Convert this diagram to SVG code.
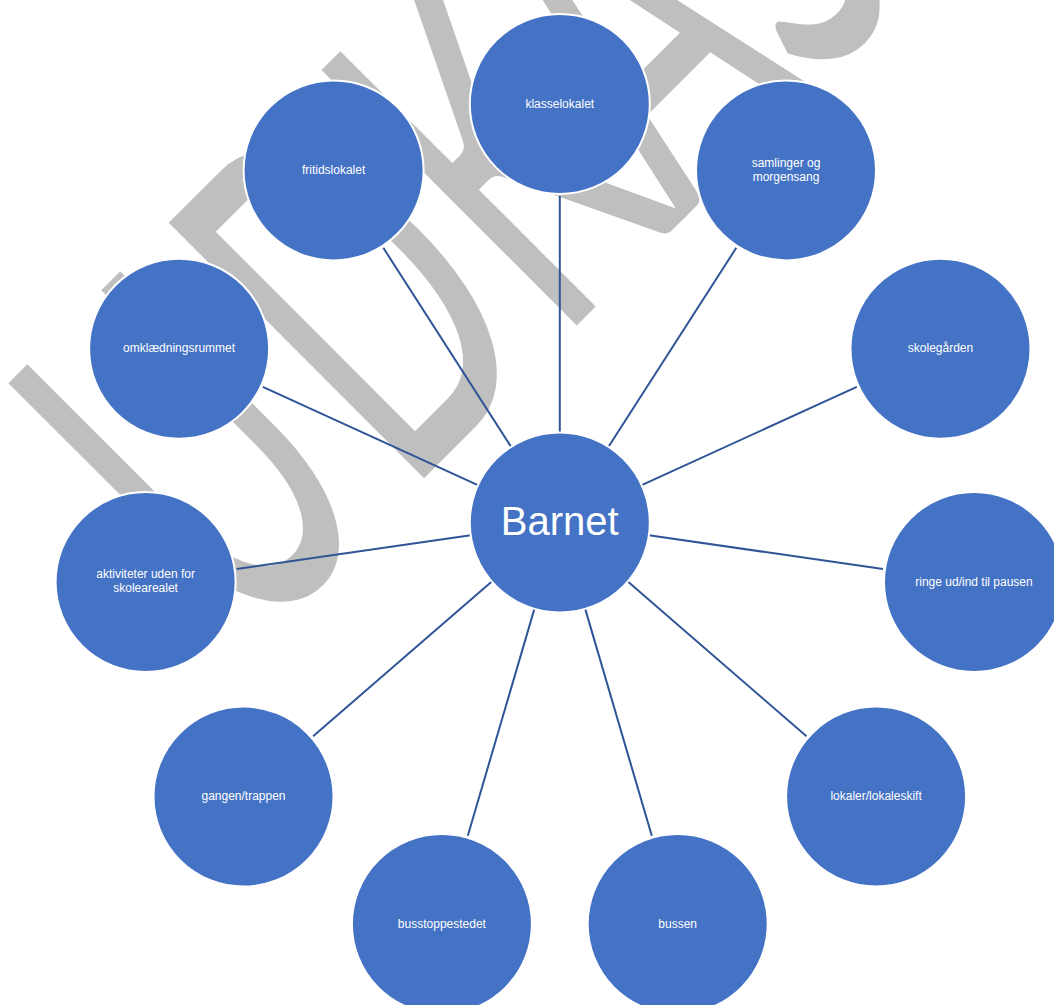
<svg xmlns="http://www.w3.org/2000/svg" width="1054" height="1005" viewBox="0 0 1054 1005">
<style>
.node{fill:#4472C4;stroke:#FFFFFF;stroke-width:2}
.lbl{font-family:"Liberation Sans",Arial,sans-serif;font-size:12px;fill:#FFFFFF;text-anchor:middle}
.big{font-family:"Liberation Sans",Arial,sans-serif;font-size:40px;fill:#FFFFFF;text-anchor:middle}
.wm{font-family:Lato,"Liberation Sans",sans-serif;font-size:504px;fill:#BFBFBF;text-anchor:middle}
#connectors line{stroke:#2F5597;stroke-width:2}
</style>
<rect width="1054" height="1005" fill="#FFFFFF"/>
<g id="watermark" transform="rotate(-45) scale(0.55,1)">
<text class="wm" x="-338 76 444 765 1064 1290" y="638">UDKAST</text>
</g>
<g id="connectors">
<line x1="559.8" y1="432.5" x2="559.8" y2="196.0"/>
<line x1="608.5" y1="446.8" x2="736.3" y2="247.8"/>
<line x1="641.7" y1="485.1" x2="856.8" y2="386.9"/>
<line x1="648.9" y1="535.3" x2="883.0" y2="569.0"/>
<line x1="627.8" y1="581.4" x2="806.5" y2="736.3"/>
<line x1="585.2" y1="608.9" x2="651.8" y2="835.8"/>
<line x1="534.4" y1="608.9" x2="467.8" y2="835.8"/>
<line x1="491.8" y1="581.4" x2="313.1" y2="736.3"/>
<line x1="470.7" y1="535.3" x2="236.6" y2="569.0"/>
<line x1="477.9" y1="485.1" x2="262.8" y2="386.9"/>
<line x1="511.1" y1="446.8" x2="383.3" y2="247.8"/>
</g>
<g id="barnet"><circle class="node" cx="559.8" cy="522.5" r="90"/><text class="big" x="559.8" y="534.5">Barnet</text></g>
<g id="klasselokalet"><circle class="node" cx="559.8" cy="104.0" r="90"/><text class="lbl" x="559.8" y="107.5">klasselokalet</text></g>
<g id="samlinger"><circle class="node" cx="786.0" cy="170.4" r="90"/><text class="lbl" x="786.0" y="166.6">samlinger og</text><text class="lbl" x="786.0" y="180.6">morgensang</text></g>
<g id="skolegaarden"><circle class="node" cx="940.5" cy="348.7" r="90"/><text class="lbl" x="940.5" y="352.2">skolegården</text></g>
<g id="ringe"><circle class="node" cx="974.0" cy="582.1" r="90"/><text class="lbl" x="974.0" y="585.6">ringe ud/ind til pausen</text></g>
<g id="lokaler"><circle class="node" cx="876.1" cy="796.6" r="90"/><text class="lbl" x="876.1" y="800.1">lokaler/lokaleskift</text></g>
<g id="bussen"><circle class="node" cx="677.7" cy="924.0" r="90"/><text class="lbl" x="677.7" y="927.5">bussen</text></g>
<g id="busstoppestedet"><circle class="node" cx="441.9" cy="924.0" r="90"/><text class="lbl" x="441.9" y="927.5">busstoppestedet</text></g>
<g id="gangen"><circle class="node" cx="243.5" cy="796.6" r="90"/><text class="lbl" x="243.5" y="800.1">gangen/trappen</text></g>
<g id="aktiviteter"><circle class="node" cx="145.6" cy="582.1" r="90"/><text class="lbl" x="145.6" y="578.3">aktiviteter uden for</text><text class="lbl" x="145.6" y="592.3">skolearealet</text></g>
<g id="omklaedning"><circle class="node" cx="179.1" cy="348.7" r="90"/><text class="lbl" x="179.1" y="352.2">omklædningsrummet</text></g>
<g id="fritidslokalet"><circle class="node" cx="333.6" cy="170.4" r="90"/><text class="lbl" x="333.6" y="173.9">fritidslokalet</text></g>
</svg>
